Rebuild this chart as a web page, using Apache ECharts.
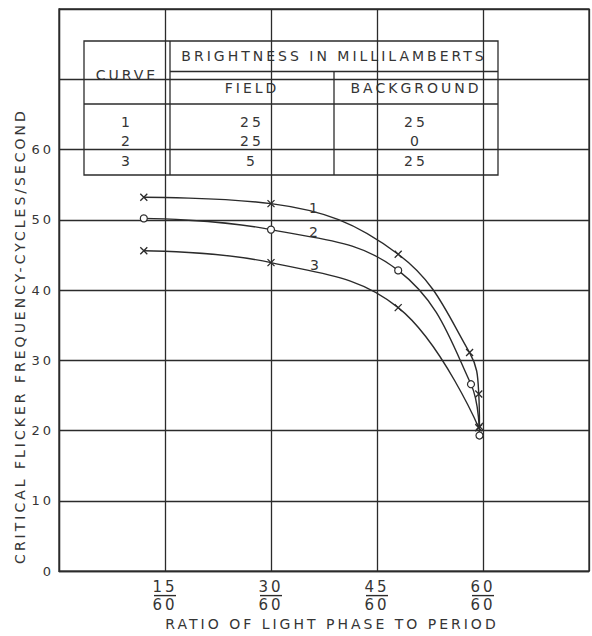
<!DOCTYPE html>
<html><head><meta charset="utf-8">
<script src="https://cdn.jsdelivr.net/npm/echarts@6/dist/echarts.min.js"></script>
<style>
html,body{margin:0;padding:0;background:#fff;}
#c{width:592px;height:636px;}
#c svg text{letter-spacing:3px;}
</style></head><body><div id="c"></div>
<script>
// ---- data (x in sixtieths of the period) ----
const xTickLabels = ['', '15/60', '30/60', '45/60', '60/60', ''];
const yTickLabels = ['0', '10', '20', '30', '40', '50', '60', '', ''];
const curveNames = ['1', '2', '3'];
const curve1 = [[12, 53.2], [30, 52.3], [48, 45.1], [58.1, 31.1], [59.4, 25.2], [59.5, 20.6]];
const curve2 = [[12, 50.2], [30, 48.6], [48, 42.8], [58.3, 26.6], [59.5, 19.3]];
const curve3 = [[12, 45.6], [30, 43.9], [48, 37.5], [59.4, 20.4]];
const tableCurve = ['1', '2', '3'];
const tableField = ['25', '25', '5'];
const tableBackground = ['25', '0', '25'];
const tableTitle = 'BRIGHTNESS IN MILLILAMBERTS';
const xTitle = 'RATIO OF LIGHT PHASE TO PERIOD';
const yTitle = 'CRITICAL FLICKER FREQUENCY-CYCLES/SECOND';

// ---- styling ----
const INK = '#2b2b2b';
const TXT = '#353535';
const FONT = 'DejaVu Sans';
const cross = 'path://M0 0L10 10M10 0L0 10';

function mkSeries(name, data, sym, labelOffset) {
  return {
    name: name, type: 'line', data: data.map((d, i) => {
      const o = { value: d };
      if (i === 1) {
        o.label = { show: true, formatter: name, position: 'inside', offset: labelOffset,
          fontFamily: FONT, fontSize: 14, color: TXT };
      }
      return o;
    }),
    smooth: 0.4,
    symbol: sym === 'x' ? cross : 'circle',
    symbolSize: 7,
    lineStyle: { color: INK, width: 1.4 },
    itemStyle: sym === 'x' ? { color: 'rgba(0,0,0,0)', borderColor: INK, borderWidth: 1.3 }
                           : { color: '#fff', borderColor: INK, borderWidth: 1.2 },
    emphasis: { disabled: true },
    z: 3
  };
}

// table graphic (pixel layout)
const TL = 84, TR = 498, TT = 41, TB = 175, C1 = 170, C2 = 334, H1 = 71.5, H2 = 104;
const rowY = [121.5, 141, 160.5];
const tStyle = (x, y, t) => ({ type: 'text', x: x, y: y,
  style: { text: t, fontFamily: FONT, fontSize: 14, fill: TXT, align: 'center', verticalAlign: 'middle' } });
const ln = (x1, y1, x2, y2) => ({ type: 'line', shape: { x1, y1, x2, y2 }, style: { stroke: INK, lineWidth: 1.3 } });
const tableEls = [
  { type: 'rect', shape: { x: TL, y: TT, width: TR - TL, height: TB - TT }, style: { fill: '#fff', stroke: INK, lineWidth: 1.3 } },
  ln(C1, TT, C1, TB), ln(C2, H1, C2, TB), ln(C1, H1, TR, H1), ln(TL, H2, TR, H2),
  tStyle((C1 + TR) / 2, 56, tableTitle),
  tStyle((TL + C1) / 2, 75, 'CURVE'),
  tStyle((C1 + C2) / 2, 88, 'FIELD'),
  tStyle((C2 + TR) / 2, 88, 'BACKGROUND')
];
tableCurve.forEach((v, i) => tableEls.push(tStyle((TL + C1) / 2, rowY[i], v)));
tableField.forEach((v, i) => tableEls.push(tStyle((C1 + C2) / 2, rowY[i], v)));
tableBackground.forEach((v, i) => tableEls.push(tStyle((C2 + TR) / 2, rowY[i], v)));

const chart = echarts.init(document.getElementById('c'), null, { renderer: 'svg' });
chart.setOption({
  backgroundColor: '#fff',
  animation: false,
  grid: { left: 59, right: 3, top: 9, bottom: 60, show: true, borderColor: INK, borderWidth: 1.3, backgroundColor: 'transparent' },
  xAxis: {
    type: 'value', min: 0, max: 75, interval: 15,
    name: xTitle, nameLocation: 'middle', nameGap: 44,
    nameTextStyle: { fontFamily: FONT, fontSize: 14, color: TXT, padding: [0, 0, 0, 16] },
    axisLine: { show: true, lineStyle: { color: INK, width: 1.3 } },
    axisTick: { show: false },
    splitLine: { show: true, lineStyle: { color: INK, width: 1.3 } },
    axisLabel: {
      margin: 9, color: TXT,
      formatter: v => {
        const s = xTickLabels[Math.round(v / 15)] || '';
        if (!s) return '';
        const p = s.split('/');
        return '{n|' + p[0] + '}\n{bar|}\n{d|' + p[1] + '}';
      },
      rich: {
        n: { fontFamily: FONT, fontSize: 15, lineHeight: 14, color: TXT },
        bar: { width: 22, height: 1.4, lineHeight: 3, backgroundColor: INK },
        d: { fontFamily: FONT, fontSize: 15, lineHeight: 15, color: TXT }
      }
    }
  },
  yAxis: {
    type: 'value', min: 0, max: 80, interval: 10,
    name: yTitle, nameLocation: 'middle', nameGap: 30, nameRotate: 90,
    nameTextStyle: { fontFamily: FONT, fontSize: 14, color: TXT, padding: [0, 92, 0, 0] },
    axisLine: { show: true, lineStyle: { color: INK, width: 1.3 } },
    axisTick: { show: false },
    splitLine: { show: true, lineStyle: { color: INK, width: 1.3 } },
    axisLabel: { margin: 5, fontFamily: FONT, fontSize: 13, color: TXT,
      formatter: v => yTickLabels[Math.round(v / 10)] || '' }
  },
  series: [
    mkSeries(curveNames[0], curve1, 'x', [44, 4]),
    mkSeries(curveNames[1], curve2, 'o', [44, 2]),
    mkSeries(curveNames[2], curve3, 'x', [45, 2])
  ],
  graphic: { elements: tableEls }
});
</script></body></html>
